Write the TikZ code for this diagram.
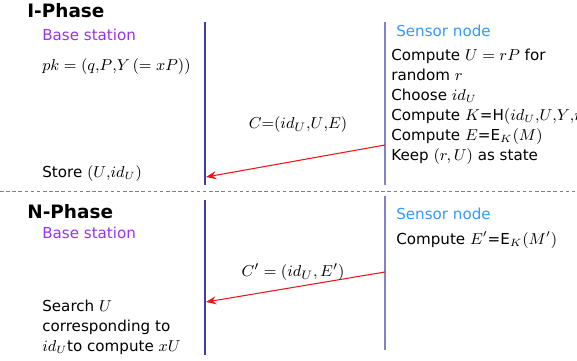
\documentclass[tikz,border=0pt]{standalone}
\usepackage{fontspec}
\setmainfont{DejaVu Sans}
\usetikzlibrary{arrows.meta, positioning}
\definecolor{basepurple}{RGB}{153, 51, 230}
\definecolor{sensorblue}{RGB}{51, 153, 255}
\definecolor{bslinecol}{RGB}{60, 60, 170}
\definecolor{snlinecol}{RGB}{130, 130, 200}
\definecolor{msgred}{RGB}{240, 20, 20}
\tikzstyle{phase} = [font=\fontsize{10.5}{13}\selectfont\bfseries, anchor=west, inner sep=0]
\tikzstyle{role} = [font=\fontsize{8.6}{11}\selectfont, anchor=west, inner sep=0]
\tikzstyle{action} = [font=\fontsize{8.6}{11.4}\selectfont, align=left, anchor=north west, inner sep=0]
\tikzstyle{msglabel} = [font=\fontsize{9.5}{11.4}\selectfont, inner sep=0]
\tikzstyle{msg} = [-{Stealth[length=2mm, width=1.6mm]}, msgred, line width=0.6pt]
\begin{document}
\begin{tikzpicture}[x=0.02cm, y=-0.02cm]
    \useasboundingbox (0,0) rectangle (577,361);

    % I-Phase
    \node[phase] (iphase) at (27,11) {I-Phase};
    \node[role, basepurple] (ibase) at (42,35) {Base station};
    \node[msglabel, anchor=west] (pk) at (42,67) {$pk = (q{,}P{,}Y\,(=xP))$};
    \node[role, sensorblue] (isensor) at (396,31) {Sensor node};
    \node[action] (icompute) at (391,49) {Compute $U = rP$ for\\random $r$\\Choose $id_U$\\Compute $K$=H$(id_U{,}U{,}Y{,}rY)$\\Compute $E$=E$_K(M)$\\Keep $(r,U)$ as state};
    \node[action, anchor=west] (store) at (42,174) {Store $(U{,}id_U)$};

    % lifelines
    \coordinate (ibsTop) at (205,22);
    \coordinate (ibsEnd) at (205,185);
    \coordinate (isnTop) at (385,22);
    \coordinate (isnEnd) at (385,185);
    \draw[bslinecol, line width=0.6pt] (ibsTop) -- (ibsEnd);
    \draw[snlinecol, line width=0.6pt] (isnTop) -- (isnEnd);

    % message C
    \coordinate (isnMsg) at (385,145);
    \coordinate (ibsMsg) at (206,177);
    \draw[msg] (isnMsg) -- (ibsMsg);
    \node[msglabel] (cmsg) at (298,125) {$C{=}(id_U{,}U{,}E)$};

    % separator
    \coordinate (sepL) at (0,191);
    \coordinate (sepR) at (577,191);
    \draw[gray, dash pattern=on 2pt off 1.5pt, line width=0.4pt] (sepL) -- (sepR);

    % N-Phase
    \node[phase] (nphase) at (27,212) {N-Phase};
    \node[role, basepurple] (nbase) at (42,233) {Base station};
    \node[role, sensorblue] (nsensor) at (396,214) {Sensor node};
    \node[action, anchor=west] (ncompute) at (396,240) {Compute $E'$=E$_K(M')$};
    \node[action] (search) at (42,300) {Search $U$\\corresponding to\\$id_U$to compute $xU$};

    \coordinate (nbsTop) at (205,200);
    \coordinate (nbsEnd) at (205,355);
    \coordinate (nsnTop) at (385,196);
    \coordinate (nsnEnd) at (385,350);
    \draw[bslinecol, line width=0.6pt] (nbsTop) -- (nbsEnd);
    \draw[snlinecol, line width=0.6pt] (nsnTop) -- (nsnEnd);

    % message C'
    \coordinate (nsnMsg) at (385,272);
    \coordinate (nbsMsg) at (206,302);
    \draw[msg] (nsnMsg) -- (nbsMsg);
    \node[msglabel] (cpmsg) at (293,272) {$C' = (id_U, E')$};
\end{tikzpicture}
\end{document}
